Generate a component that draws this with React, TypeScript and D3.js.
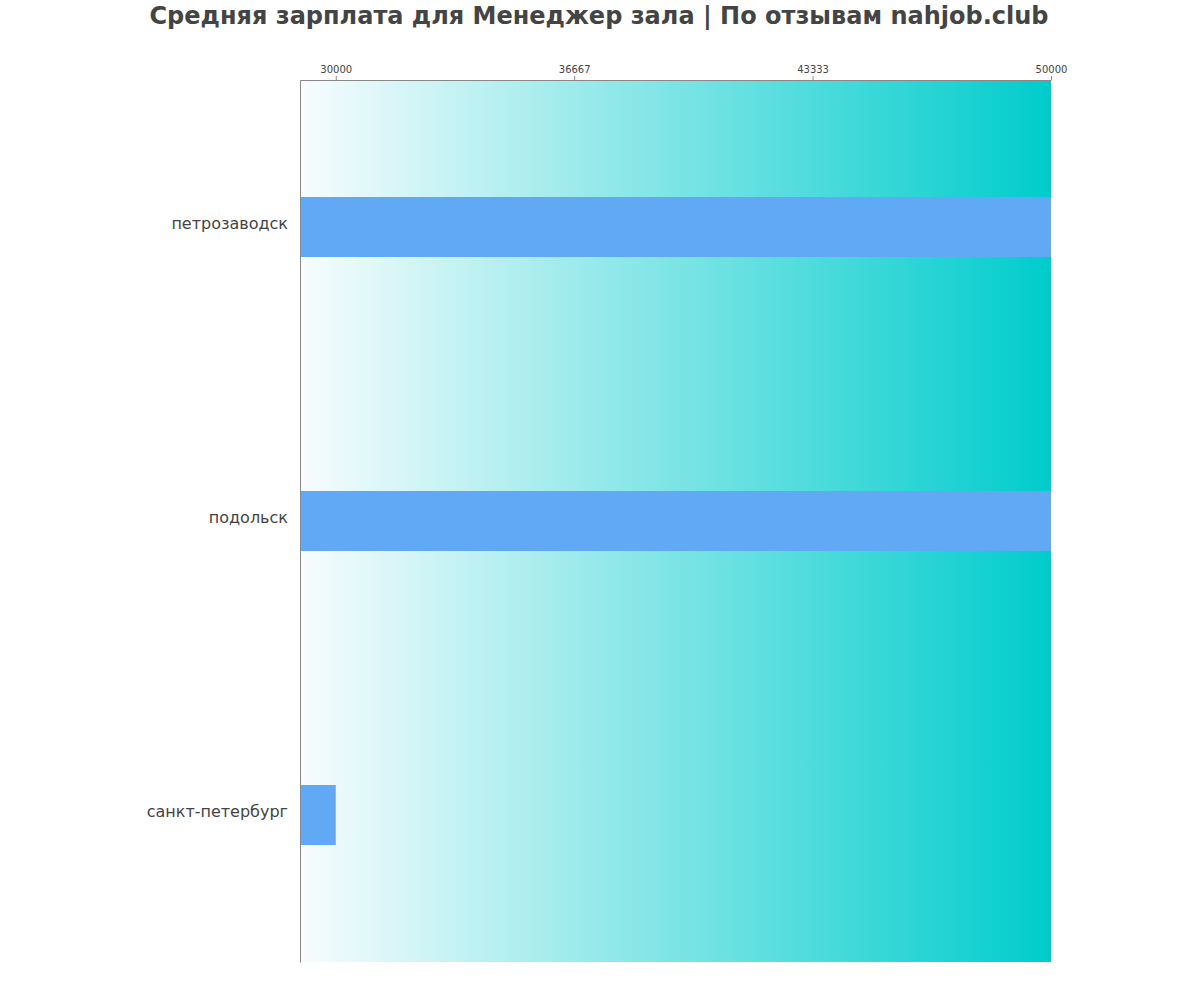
import React, { useEffect, useRef } from "react";
import * as d3 from "d3";

const cities = ["петрозаводск", "подольск", "санкт-петербург"];
const salaries = [50000, 50000, 30000];
const tickValues = [30000, 36667, 43333, 50000];

export default function App() {
  const ref = useRef<SVGSVGElement>(null);

  useEffect(() => {
    const svg = d3.select(ref.current);
    svg.selectAll("*").remove();

    const margin = { top: 80, left: 300, right: 149, bottom: 38 };
    const width = 751;
    const height = 882;

    const x = d3.scaleLinear().domain([29000, 50000]).range([0, width]);
    const y = d3.scaleBand().domain(cities).range([0, height]);
    const barH = 60;

    const defs = svg.append("defs");
    const grad = defs
      .append("linearGradient")
      .attr("id", "bg")
      .attr("x1", "0%")
      .attr("x2", "100%")
      .attr("y1", "0%")
      .attr("y2", "0%");
    grad.append("stop").attr("offset", "0%").attr("stop-color", "#f8fcfe");
    grad.append("stop").attr("offset", "100%").attr("stop-color", "#00cccc");

    svg
      .append("text")
      .attr("x", 599)
      .attr("y", 24)
      .attr("text-anchor", "middle")
      .style("font-family", "'DejaVu Sans', sans-serif")
      .style("font-size", "24px")
      .style("font-weight", "bold")
      .style("fill", "#444")
      .text("Средняя зарплата для Менеджер зала | По отзывам nahjob.club");

    const chart = svg
      .append("g")
      .attr("transform", `translate(${margin.left},${margin.top})`);

    chart
      .append("rect")
      .attr("width", width)
      .attr("height", height)
      .attr("fill", "url(#bg)");

    // Bars
    chart
      .selectAll(".bar")
      .data(cities)
      .enter()
      .append("rect")
      .attr("class", "bar")
      .attr("x", 0)
      .attr("y", (d) => y(d)! + y.bandwidth() / 2 - barH / 2)
      .attr("width", (d, i) => x(salaries[i]))
      .attr("height", barH)
      .attr("fill", "#61a9f4");

    // Top axis
    const top = chart
      .append("g")
      .call(
        d3
          .axisTop(x)
          .tickValues(tickValues)
          .tickFormat((d) => String(d))
          .tickSize(4)
          .tickSizeOuter(0),
      );
    top.select(".domain").attr("stroke", "#888");
    top.selectAll(".tick line").attr("stroke", "#888");
    top
      .selectAll(".tick text")
      .style("font-family", "'DejaVu Sans', sans-serif")
      .style("font-size", "10px")
      .style("fill", "#444");

    // Left axis
    const left = chart
      .append("g")
      .call(d3.axisLeft(y).tickSize(0).tickPadding(12).tickSizeOuter(0));
    left.select(".domain").attr("stroke", "#888");
    left
      .selectAll(".tick text")
      .attr("dy", "0.1em")
      .style("font-family", "'DejaVu Sans', sans-serif")
      .style("font-size", "16px")
      .style("fill", "#444");
  }, []);

  return (
    <svg
      ref={ref}
      width={1200}
      height={1000}
      style={{ display: "block", position: "absolute", top: 0, left: 0 }}
    />
  );
}
